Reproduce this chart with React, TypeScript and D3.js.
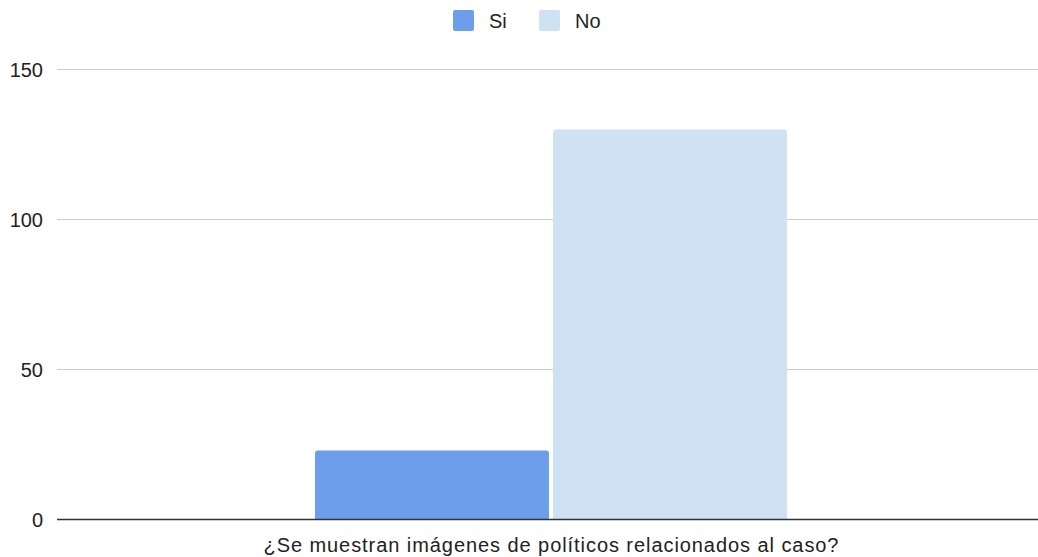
import React from 'react';
import * as d3 from 'd3';

const categories = ['¿Se muestran imágenes de políticos relacionados al caso?'];
const seriesNames = ['Si', 'No'];
const siValues = [23];
const noValues = [130];
const yTicks = [0, 50, 100, 150];
const colors = ['#6d9eeb', '#cfe2f3'];

const W = 1038;
const H = 557;
const margin = { top: 69.5, right: -7, bottom: 37.5, left: 57 };
const font = 'Arial, "Liberation Sans", sans-serif';

export default function App() {
  const innerW = W - margin.left - margin.right;
  const innerH = H - margin.top - margin.bottom;

  const x0 = d3.scaleBand<string>().domain(categories).range([0, innerW]).paddingOuter(0.5466).paddingInner(0);
  const x1 = d3.scaleBand<string>().domain(seriesNames).range([0, x0.bandwidth()]).paddingInner(0.017);
  const y = d3.scaleLinear().domain([0, 150]).range([innerH, 0]);
  const values = [siValues, noValues];

  const barPath = (x: number, yTop: number, w: number, h: number, r = 3) =>
    `M${x},${yTop + h}V${yTop + r}Q${x},${yTop} ${x + r},${yTop}H${x + w - r}Q${x + w},${yTop} ${x + w},${yTop + r}V${yTop + h}Z`;

  return (
    <svg width={W} height={H} style={{ position: 'absolute', left: 0, top: 0, background: '#fff' }}>
      <g transform={`translate(${margin.left},${margin.top})`}>
        {yTicks.map(t => (
          <g key={t}>
            {t !== 0 && <line x1={0} x2={innerW} y1={y(t)} y2={y(t)} stroke="#cccccc" strokeWidth={1} />}
            <text x={-14} y={y(t)} dy="0.35em" textAnchor="end" fontFamily={font} fontSize={20} fill="#222">{t}</text>
          </g>
        ))}
        {categories.map((c, ci) => (
          <g key={c} transform={`translate(${x0(c)},0)`}>
            {seriesNames.map((s, si) => {
              const v = values[si][ci];
              return (
                <path key={s} d={barPath(x1(s)!, y(v), x1.bandwidth(), y(0) - y(v))} fill={colors[si]} />
              );
            })}
            <text x={x0.bandwidth() / 2} y={innerH + 32.5} textAnchor="middle" fontFamily={font} fontSize={20} fill="#222"
              textLength={575} lengthAdjust="spacing">{c}</text>
          </g>
        ))}
        <line x1={0} x2={innerW} y1={y(0)} y2={y(0)} stroke="#333" strokeWidth={1.5} />
      </g>
      <g fontFamily={font} fontSize={20} fill="#222">
        {seriesNames.map((s, i) => (
          <g key={s} transform={`translate(${453 + i * 86},10)`}>
            <rect x={0} y={0} width={21} height={21} rx={2} fill={colors[i]} />
            <text x={36} y={10.5} dy="0.35em">{s}</text>
          </g>
        ))}
      </g>
    </svg>
  );
}
